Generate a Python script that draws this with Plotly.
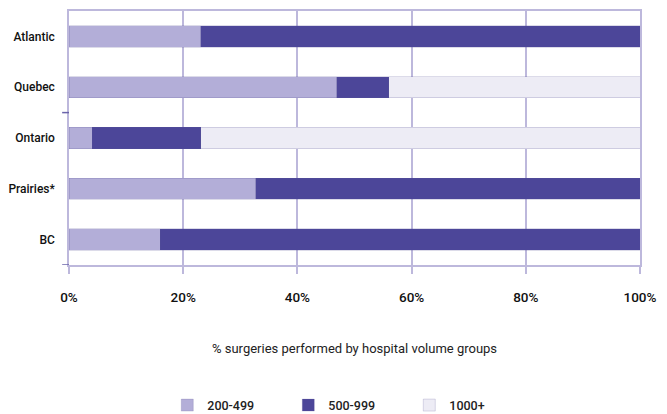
import plotly.graph_objects as go

regions = ['Atlantic', 'Quebec', 'Ontario', 'Prairies*', 'BC']
vol_200_499 = [23.1, 46.9, 4.1, 32.7, 16.0]
vol_500_999 = [76.9, 9.1, 19.0, 67.3, 84.0]
vol_1000_plus = [0.0, 44.0, 76.9, 0.0, 0.0]
series_names = ['200-499', '500-999', '1000+']
colors = ['#b3aed8', '#4c4699', '#edecf5']
x_title = '% surgeries performed by hospital volume groups'

font_family = 'Roboto, DejaVu Sans, sans-serif'
grid_col = '#bdb8dc'

fig = go.Figure()
for name, vals, col in zip(series_names, [vol_200_499, vol_500_999, vol_1000_plus], colors):
    fig.add_bar(
        y=regions, x=vals, name=name, orientation='h',
        marker=dict(color=col, line=dict(width=0.6, color='rgba(90,85,150,0.35)')),
    )

fig.update_layout(
    barmode='stack',
    bargap=0.58,
    width=667, height=414,
    margin=dict(l=69, r=27, t=11, b=149, autoexpand=False),
    plot_bgcolor='white', paper_bgcolor='white',
    font=dict(family=font_family, size=13, color='#222222'),
    showlegend=True,
    legend=dict(
        orientation='h', x=0.49, xanchor='center', y=-0.553, yanchor='middle',
        font=dict(size=12.5, weight=500), traceorder='normal',
        entrywidth=76,
    ),
)

fig.update_xaxes(
    range=[0, 100], tickvals=[0, 20, 40, 60, 80, 100],
    ticktext=['0%', '20%', '40%', '60%', '80%', '100%'],
    showgrid=True, gridcolor=grid_col, gridwidth=1.5,
    ticks='outside', ticklen=7, tickcolor=grid_col, tickwidth=1.5,
    ticklabelstandoff=12, automargin=False,
    tickfont=dict(size=13.5, color='#111111', weight=500),
    showline=True, linecolor=grid_col, linewidth=1.5, mirror=True,
    zeroline=False,
)
fig.update_yaxes(
    categoryorder='array', categoryarray=regions[::-1],
    range=[-0.5, 4.5], automargin=False,
    showgrid=False, ticks='', ticklabelstandoff=10,
    tickfont=dict(size=12, color='#111111', weight=500),
    showline=True, linecolor=grid_col, linewidth=1.5, mirror=True,
)

fig.add_annotation(text=x_title, xref='paper', yref='paper', x=0.5, y=-0.327,
                   xanchor='center', yanchor='middle', showarrow=False,
                   font=dict(size=13, color='#222222'))

# small tick marks on the left axis
for yv in [2.5, -0.5]:
    fig.add_shape(type='line', xref='paper', yref='y', x0=-0.012, x1=0, y0=yv, y1=yv,
                  line=dict(color='#6a64aa', width=1.5))

fig.write_html('out.html', config={'displayModeBar': False},
               post_script="document.body.style.margin='0';")
